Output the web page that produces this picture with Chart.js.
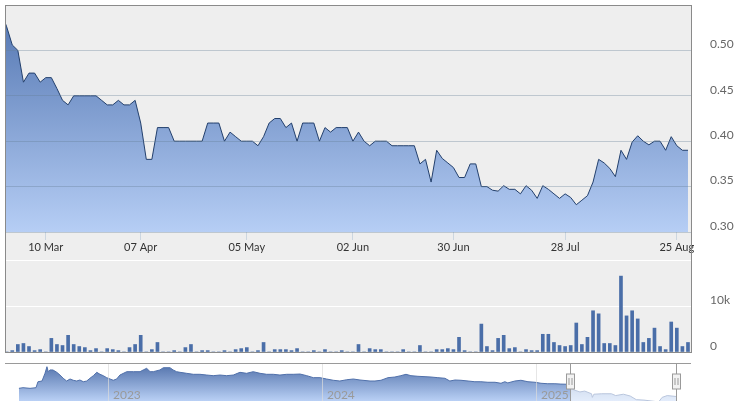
<!DOCTYPE html>
<html>
<head>
<meta charset="utf-8">
<script src="https://cdn.jsdelivr.net/npm/chart.js@4.4.1/dist/chart.umd.min.js"></script>
<style>
  html, body { margin: 0; padding: 0; background: #fff; overflow: hidden; }
  #wrap { position: relative; width: 738px; height: 401px; }
  #bg { position: absolute; left: 5px; top: 5px; width: 687px; height: 348px; background: #eeeeee; }
  #frame { position: absolute; left: 5px; top: 5px; width: 687px; height: 348px; border: 1px solid #8a8a8a; box-sizing: border-box; pointer-events: none; }
  canvas { position: absolute; left: 0; }
  #priceChart { top: 0; }
  #volChart { top: 252px; }
  #navChart { top: 358px; }
</style>
</head>
<body>
<div id="wrap">
  <div id="bg"></div>
  <canvas id="priceChart" width="738" height="258"></canvas>
  <canvas id="volChart" width="738" height="106"></canvas>
  <canvas id="navChart" width="738" height="43"></canvas>
  <div id="frame"></div>
</div>
<script>
// daily closes, one per trading day (index 0 = 26 Feb 2025)
const prices = [
  0.542, 0.526, 0.506, 0.500, 0.465, 0.475, 0.475, 0.465, 0.470, 0.470,
  0.458, 0.445, 0.440, 0.450, 0.450, 0.450, 0.450, 0.450, 0.445, 0.440,
  0.440, 0.445, 0.440, 0.440, 0.445, 0.420, 0.380, 0.380, 0.415, 0.415,
  0.415, 0.400, 0.400, 0.400, 0.400, 0.400, 0.400, 0.420, 0.420, 0.420,
  0.400, 0.410, 0.405, 0.400, 0.400, 0.400, 0.395, 0.405, 0.420, 0.425,
  0.425, 0.415, 0.420, 0.400, 0.420, 0.420, 0.420, 0.400, 0.415, 0.410,
  0.415, 0.415, 0.415, 0.400, 0.410, 0.400, 0.395, 0.400, 0.400, 0.400,
  0.395, 0.395, 0.395, 0.395, 0.395, 0.375, 0.380, 0.355, 0.390, 0.381,
  0.376, 0.371, 0.360, 0.360, 0.375, 0.375, 0.350, 0.350, 0.346, 0.345,
  0.351, 0.347, 0.347, 0.342, 0.351, 0.346, 0.337, 0.351, 0.347, 0.342,
  0.337, 0.342, 0.338, 0.330, 0.335, 0.340, 0.355, 0.380, 0.376, 0.370,
  0.361, 0.390, 0.380, 0.399, 0.406, 0.400, 0.396, 0.400, 0.400, 0.390,
  0.405, 0.395, 0.390, 0.390
];

const volumes = [
  0, 0, 300, 1630, 1850, 1190, 300, 520, 0, 2960,
  1630, 1410, 3630, 1630, 1190, 960, 300, 740, 0, 740,
  520, 300, 0, 960, 1630, 3630, 0, 520, 2070, 0,
  0, 300, 0, 960, 1630, 0, 300, 300, 0, 0,
  300, 0, 520, 740, 960, 0, 300, 2070, 0, 520,
  520, 520, 300, 740, 0, 0, 300, 0, 520, 0,
  0, 300, 0, 0, 1630, 0, 740, 520, 520, 0,
  0, 0, 520, 0, 0, 1410, 0, 0, 520, 520,
  740, 520, 3190, 300, 0, 0, 6070, 1190, 300, 2960,
  3630, 740, 960, 0, 520, 300, 300, 3850, 3850, 2070,
  1410, 1190, 1410, 6300, 1630, 3190, 8960, 8300, 1850, 1850,
  1410, 16500, 7850, 8960, 7190, 2070, 2960, 5190, 1190, 520,
  6520, 5190, 1190, 2070
];

// trading-day index where each date label sits
const tickIdx = [8, 25, 44, 63, 81, 101, 121];
const tickLabels = ['10 Mar', '07 Apr', '05 May', '02 Jun', '30 Jun', '28 Jul', '25 Aug'];

// navigator: long history in decimal years
const navYears = [
  2022.579, 2022.598, 2022.631, 2022.659, 2022.668, 2022.687, 2022.701, 2022.710, 2022.716, 2022.724,
  2022.738, 2022.756, 2022.771, 2022.786, 2022.802, 2022.818, 2022.833, 2022.849, 2022.864, 2022.880,
  2022.896, 2022.911, 2022.927, 2022.943, 2022.958, 2022.973, 2022.989, 2023.005, 2023.020, 2023.036,
  2023.051, 2023.083, 2023.114, 2023.145, 2023.160, 2023.176, 2023.192, 2023.207, 2023.238, 2023.254,
  2023.285, 2023.300, 2023.316, 2023.332, 2023.363, 2023.394, 2023.425, 2023.457, 2023.487, 2023.519,
  2023.550, 2023.581, 2023.612, 2023.643, 2023.674, 2023.706, 2023.737, 2023.768, 2023.799, 2023.830,
  2023.861, 2023.893, 2023.924, 2023.955, 2023.986, 2024.017, 2024.048, 2024.079, 2024.111, 2024.142,
  2024.173, 2024.220, 2024.243, 2024.271, 2024.304, 2024.336, 2024.364, 2024.388, 2024.411, 2024.444,
  2024.477, 2024.505, 2024.537, 2024.570, 2024.593, 2024.617, 2024.645, 2024.678, 2024.710, 2024.738,
  2024.771, 2024.804, 2024.832, 2024.850, 2024.864, 2024.897, 2024.925, 2024.958, 2024.991, 2025.019,
  2025.051, 2025.084, 2025.112, 2025.145,
  2025.154, 2025.170, 2025.201, 2025.223, 2025.255, 2025.259, 2025.266, 2025.303, 2025.348, 2025.368,
  2025.404, 2025.436, 2025.464, 2025.500, 2025.569, 2025.585, 2025.609, 2025.650
];
const navValues = [
  0.480, 0.487, 0.480, 0.487, 0.553, 0.561, 0.646, 0.719, 0.664, 0.683,
  0.683, 0.657, 0.627, 0.591, 0.561, 0.583, 0.569, 0.561, 0.572, 0.553,
  0.561, 0.591, 0.620, 0.657, 0.635, 0.620, 0.598, 0.583, 0.569, 0.583,
  0.627, 0.664, 0.664, 0.664, 0.683, 0.701, 0.664, 0.664, 0.683, 0.708,
  0.708, 0.683, 0.664, 0.657, 0.646, 0.635, 0.635, 0.627, 0.620, 0.627,
  0.620, 0.627, 0.657, 0.646, 0.664, 0.646, 0.635, 0.635, 0.627, 0.635,
  0.635, 0.638, 0.620, 0.598, 0.598, 0.583, 0.569, 0.561, 0.575, 0.583,
  0.572, 0.561, 0.561, 0.569, 0.598, 0.605, 0.620, 0.635, 0.620, 0.613,
  0.609, 0.605, 0.598, 0.591, 0.561, 0.572, 0.569, 0.561, 0.553, 0.553,
  0.547, 0.547, 0.536, 0.553, 0.540, 0.561, 0.569, 0.553, 0.547, 0.536,
  0.531, 0.531, 0.527, 0.525,
  0.530, 0.465, 0.440, 0.450, 0.420, 0.380, 0.415, 0.420, 0.420, 0.400,
  0.415, 0.395, 0.355, 0.350, 0.330, 0.380, 0.400, 0.390
];
const navTicks = [2023, 2024, 2025];
const navRange = [2025.154, 2025.650];

Chart.defaults.font.family = 'Lato, "Open Sans", sans-serif';
Chart.defaults.animation = false;

const xMin = 0.7;
const xMax = 123.54;

const fixRight = (s) => { s.width = 47; s.paddingTop = 0; s.paddingBottom = 0; };

function gradientFill(top, bottom) {
  return (context) => {
    const { chart } = context;
    const area = chart.chartArea;
    if (!area) return null;
    const g = chart.ctx.createLinearGradient(0, area.top, 0, area.bottom);
    g.addColorStop(0, top);
    g.addColorStop(1, bottom);
    return g;
  };
}

// price pane
const ctxPrice = document.getElementById('priceChart').getContext('2d');
const priceChart = new Chart(ctxPrice, {
  type: 'line',
  data: {
    datasets: [{
      data: prices.map((v, i) => ({ x: i, y: v })),
      borderColor: '#223f6c',
      borderWidth: 1,
      pointRadius: 0,
      tension: 0,
      fill: 'start',
      backgroundColor: gradientFill('rgb(80,115,175)', 'rgb(182,206,245)')
    }]
  },
  options: {
    responsive: false,
    layout: { padding: { left: 5, top: 5, right: 0, bottom: 0 } },
    plugins: { legend: { display: false }, tooltip: { enabled: false } },
    scales: {
      x: {
        type: 'linear',
        min: xMin,
        max: xMax,
        afterBuildTicks: (s) => { s.ticks = tickIdx.map(v => ({ value: v })); },
        afterFit: (s) => { s.height = 26; s.paddingLeft = 0; s.paddingRight = 0; },
        ticks: {
          autoSkip: false,
          maxRotation: 0,
          padding: 1,
          color: '#333333',
          font: { size: 11 },
          callback: (v, i) => tickLabels[i]
        },
        grid: { drawOnChartArea: false, tickLength: 8, color: '#ccd6e0' },
        border: { display: false }
      },
      y: {
        position: 'right',
        min: 0.30,
        max: 0.55,
        afterFit: fixRight,
        ticks: {
          stepSize: 0.05,
          padding: 19,
          labelOffset: -6,
          color: '#666666',
          font: { size: 12 },
          callback: (v) => v > 0.549 ? '' : v.toFixed(2)
        },
        grid: { drawTicks: false, color: 'rgba(100,125,150,0.35)', z: 1 },
        border: { display: false }
      }
    }
  }
});

// volume pane
const ctxVol = document.getElementById('volChart').getContext('2d');
const volChart = new Chart(ctxVol, {
  type: 'bar',
  data: {
    datasets: [{
      data: volumes.map((v, i) => ({ x: i, y: v })),
      backgroundColor: '#4a6ea8',
      barThickness: 3
    }]
  },
  options: {
    responsive: false,
    layout: { padding: { left: 5, top: 8, right: 0, bottom: 6 } },
    plugins: { legend: { display: false }, tooltip: { enabled: false } },
    scales: {
      x: { type: 'linear', min: xMin, max: xMax, offset: false, display: false },
      y: {
        position: 'right',
        min: 0,
        max: 20000,
        afterFit: fixRight,
        ticks: {
          stepSize: 10000,
          padding: 19,
          labelOffset: -6,
          color: '#666666',
          font: { size: 12 },
          callback: (v) => v >= 20000 ? '' : (v === 0 ? '0' : (v / 1000) + 'k')
        },
        grid: { drawTicks: false, color: '#ffffff' },
        border: { display: false }
      }
    }
  }
});

// mask, outline, handles and year labels of the navigator
const navigatorPlugin = {
  id: 'navigatorExtras',
  afterDraw(chart) {
    const { ctx, chartArea: a, scales } = chart;
    const x0 = Math.round(scales.x.getPixelForValue(navRange[0])) + 0.5;
    const x1 = Math.round(scales.x.getPixelForValue(navRange[1])) + 0.5;
    ctx.save();
    ctx.fillStyle = 'rgba(255,255,255,0.6)';
    ctx.fillRect(x0, a.top, x1 - x0, a.bottom - a.top);

    ctx.fillStyle = '#9a9a9a';
    ctx.font = '12px Lato, "Open Sans", sans-serif';
    ctx.textBaseline = 'middle';
    navTicks.forEach(t => {
      ctx.fillText(String(t), scales.x.getPixelForValue(t) + 4, a.top + 32);
    });

    ctx.strokeStyle = '#9a9a9a';
    ctx.lineWidth = 1;
    ctx.beginPath();
    ctx.moveTo(a.left, a.top + 0.5);
    ctx.lineTo(a.right, a.top + 0.5);
    [x0, x1].forEach(x => { ctx.moveTo(x, a.top); ctx.lineTo(x, a.bottom); });
    ctx.stroke();

    [x0, x1].forEach(x => {
      ctx.fillStyle = '#f2f2f2';
      ctx.fillRect(x - 4, a.top + 11, 8, 15);
      ctx.strokeRect(x - 4, a.top + 11, 8, 15);
      ctx.beginPath();
      ctx.moveTo(x - 1.5, a.top + 15);
      ctx.lineTo(x - 1.5, a.top + 22);
      ctx.moveTo(x + 1.5, a.top + 15);
      ctx.lineTo(x + 1.5, a.top + 22);
      ctx.stroke();
    });
    ctx.restore();
  }
};

const ctxNav = document.getElementById('navChart').getContext('2d');
const navChart = new Chart(ctxNav, {
  type: 'line',
  data: {
    datasets: [{
      data: navYears.map((x, i) => ({ x: x, y: navValues[i] })),
      borderColor: 'rgb(80,112,170)',
      borderWidth: 1,
      pointRadius: 0,
      tension: 0,
      fill: 'start',
      backgroundColor: gradientFill('rgb(78,110,168)', 'rgb(185,208,245)')
    }]
  },
  options: {
    responsive: false,
    layout: { padding: { left: 5, top: 5, right: 47, bottom: 0 } },
    plugins: { legend: { display: false }, tooltip: { enabled: false } },
    scales: {
      x: {
        type: 'linear',
        min: 2022.514,
        max: 2025.72,
        afterBuildTicks: (s) => { s.ticks = navTicks.map(v => ({ value: v })); },
        afterFit: (s) => { s.height = 0; s.paddingLeft = 0; s.paddingRight = 0; },
        ticks: { display: false },
        grid: { drawTicks: false, color: 'rgba(220,220,220,0.7)', z: 1 },
        border: { display: false }
      },
      y: { display: false, min: 0.34, max: 0.76 }
    }
  },
  plugins: [navigatorPlugin]
});
</script>
</body>
</html>
